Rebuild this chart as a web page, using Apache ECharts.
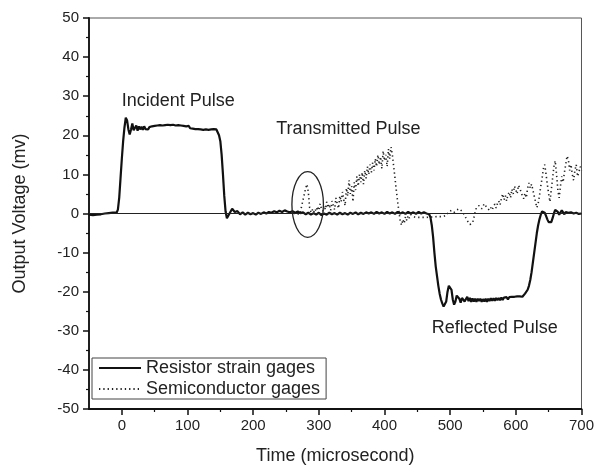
<!DOCTYPE html>
<html>
<head>
<meta charset="utf-8">
<script src="https://cdn.jsdelivr.net/npm/echarts@6/dist/echarts.min.js"></script>
<style>
  html, body { margin: 0; padding: 0; background: #fff; }
  #main { width: 597px; height: 470px; }
</style>
</head>
<body>
<div id="main"></div>
<script>
// tick labels
var xTicks = [0, 100, 200, 300, 400, 500, 600, 700];
var xMinorTicks = [50, 150, 250, 350, 450, 550, 650];

// resistor strain gages (time, mV)
var resistorTime = [
  -50, -47, -44, -41, -38, -35, -32, -29, -26, -23, -20, -17, -14, -11, -8, -6, -4, -2, 0, 2, 4, 6, 7, 8,
  10, 12, 14, 16, 18, 20, 22, 24, 26, 28, 30, 32, 34, 36, 38, 40, 42, 44, 46, 48, 50, 52, 54, 56, 58, 60,
  62, 64, 66, 68, 70, 72, 74, 76, 78, 80, 82, 84, 86, 88, 90, 92, 94, 96, 98, 100, 102, 104, 106, 108, 110,
  112, 114, 116, 118, 120, 122, 124, 126, 128, 130, 132, 134, 136, 138, 140, 142, 144, 146, 148, 150, 152,
  154, 156, 158, 160, 162, 164, 166, 168, 170, 172, 174, 176, 178, 180, 184, 188, 192, 196, 200, 204, 208,
  212, 216, 220, 224, 228, 232, 236, 240, 244, 248, 252, 256, 260, 264, 268, 272, 276, 280, 284, 288, 292,
  296, 300, 304, 308, 312, 316, 320, 324, 328, 332, 336, 340, 344, 348, 352, 356, 360, 364, 368, 372, 376,
  380, 384, 388, 392, 396, 400, 404, 408, 412, 416, 420, 424, 428, 432, 436, 440, 444, 448, 452, 456, 460,
  464, 468, 470, 472, 474, 476, 478, 480, 482, 484, 486, 488, 490, 492, 494, 496, 498, 500, 502, 504, 506,
  508, 510, 512, 514, 516, 518, 520, 522, 524, 526, 528, 530, 532, 534, 536, 538, 540, 542, 544, 546, 548,
  550, 552, 554, 556, 558, 560, 562, 564, 566, 568, 570, 572, 574, 576, 578, 580, 582, 584, 586, 588, 590,
  592, 594, 596, 598, 600, 602, 604, 606, 608, 610, 612, 614, 616, 618, 620, 622, 624, 626, 628, 630, 632,
  634, 636, 638, 640, 642, 644, 646, 648, 650, 652, 654, 656, 658, 660, 662, 664, 666, 668, 670, 672, 674,
  676, 678, 680, 682, 684, 686, 688, 690, 692, 694, 696, 698, 700
];
var resistorVolt = [
  -0.3, 0.1, -0.4, 0, -0.3, 0.2, -0.2, -0.4, 0, -0.3, 0.1, -0.2, 0.2, -0.1, 0.2, 1, 4, 9, 14, 18.5, 22, 24.5, 24.6, 23.8,
  21.5, 20.2, 21.5, 23, 21.3, 20.8, 22.5, 21.2, 22.3, 21.5, 22.2, 21.4, 22.3, 21.6, 22, 21.5, 22.1, 21.7, 22.3, 21.8, 22.4, 22, 22.5, 22.1, 22.6, 22.2,
  22.5, 22.1, 22.6, 22.3, 22.7, 22.2, 22.6, 22.3, 22.7, 22.2, 22.5, 22.1, 22.6, 22.2, 22.5, 22.2, 22.4, 22, 22.3, 21.9, 22.4, 21.8, 22.2, 21.7, 22.1,
  21.6, 22, 21.6, 22, 21.5, 21.9, 21.4, 21.9, 21.5, 21.8, 21.4, 21.8, 21.5, 21.8, 21.6, 21.8, 21.5, 21, 20, 18.5, 15,
  10, 4.5, 0.5, -1.2, -1, 0, 0.3, 1.2, 1.3, 0.4, 0, 0.6, 0.2, -0.2, 0.3, -0.3, 0.2, -0.2, 0.1, -0.3, 0.2,
  -0.1, 0.3, 0, 0.4, 0.2, 0.6, 0.3, 0.7, 0.4, 0.8, 0.5, 0.3, 0.6, 0.2, 0.5, 0.1, 0.3, -0.2, 0.2, -0.3, 0.1,
  -0.3, 0.2, -0.4, 0, -0.3, 0.2, -0.2, 0.1, -0.3, 0.2, -0.2, 0.1, -0.3, 0.2, -0.1, 0.3, -0.2, 0.2, -0.1, 0.3, 0,
  0.3, -0.1, 0.4, 0, 0.3, -0.1, 0.4, 0, 0.3, -0.1, 0.4, 0, 0.3, -0.1, 0.4, 0, 0.3, -0.1, 0.4, 0, 0.3,
  0, -0.2, -1, -3, -6, -10, -13.5, -16, -18.5, -20.5, -22, -23, -23.8, -24, -22.5, -20, -18.5, -18.2, -19.5, -22, -23.3,
  -22.5, -21, -20.5, -21.8, -22.8, -21.6, -21.2, -22.5, -22, -21.3, -22.4, -21.6, -22.6, -21.7, -22.5, -21.8, -22.6, -21.8, -22.4, -21.8, -22.6,
  -21.9, -22.5, -21.8, -22.6, -21.8, -22.4, -21.7, -22.3, -21.7, -22.3, -21.6, -22.2, -21.6, -22.2, -21.5, -22.1, -21.5, -22, -21.4, -22, -21.4,
  -21.9, -21.3, -21.8, -21.3, -21.7, -21.2, -21.6, -21.2, -21.5, -21.3, -21, -20.5, -20, -19.5, -18.5, -17, -15, -12.5, -10, -7.5, -5,
  -3, -1.5, -0.3, 0.5, 0.8, 0.2, -0.6, -1.5, -2.2, -2.5, -2.2, -1.2, 0, 0.9, 1, 0.4, -0.3, 0.2, 0.8, 0.5, -0.2,
  0.4, 0.8, 0.2, -0.3, 0.3, 0.6, 0, -0.3, 0.2, 0.4, -0.1, -0.3, 0
];

// semiconductor gages (time, mV)
var semiTime = [
  262, 266, 270, 272, 274, 276, 278, 280, 282, 283, 284, 285, 286, 288, 290, 292, 294, 296, 298, 300, 302, 304,
  306, 308, 310, 312, 314, 316, 318, 320, 322, 324, 326, 328, 330, 332, 334, 336, 338, 340, 342, 344, 346, 348,
  350, 352, 354, 356, 358, 360, 362, 364, 366, 368, 370, 372, 374, 376, 378, 380, 382, 384, 386, 388, 390, 392,
  394, 396, 398, 400, 402, 404, 406, 408, 410, 412, 414, 416, 418, 420, 422, 424, 426, 428, 430, 432, 434, 436,
  438, 440, 444, 448, 456, 464, 472, 480, 488, 494, 498, 502, 506, 510, 514, 518, 522, 526, 530, 532, 534, 536,
  538, 540, 542, 544, 546, 548, 550, 552, 554, 556, 558, 560, 562, 564, 566, 568, 570, 572, 574, 576, 578, 580,
  582, 584, 586, 588, 590, 592, 594, 596, 598, 600, 602, 604, 606, 608, 610, 612, 614, 616, 618, 620, 622, 624,
  626, 628, 630, 632, 634, 636, 638, 640, 642, 644, 646, 648, 650, 652, 654, 656, 658, 660, 662, 664, 666, 668,
  670, 672, 674, 676, 678, 680, 682, 684, 686, 688, 690, 692, 694, 696, 698, 700
];
var semiVolt = [
  0, 0.2, -0.3, 0.5, 2, 3.5, 5, 6.5, 7.5, 7.6, 5.5, 3.5, 1.5, 0.3, 1, 0.2, 1.2, 0.5, 1.8, 0.8, 2.5, 1.2,
  0.6, 2, 1, 3, 1.5, 2.4, 0.8, 3.2, 2, 1, 4, 2.5, 1.3, 4.5, 3, 5.5, 3.5, 2, 6.5, 4.5, 8.5, 5,
  7, 3, 8, 6, 9.5, 7, 10, 8, 10.5, 7.5, 11, 9, 12, 10, 12.5, 10.5, 13, 11, 14, 12, 15, 12.5,
  14.5, 11.5, 16, 13.5, 15, 12, 16.5, 14, 17, 15, 12, 9, 6, 3, 0.5, -2, -3, -1.5, -2.5, -0.8, -1.8, -0.5,
  -1.2, -0.3, -0.8, -1, -1, -1, -0.9, -0.8, -0.8, -0.5, 0.5, 0.8, 0.3, 0.9, 1.2, 0.6, -0.5, -1.8, -2.8, -3, -2.5, -1.2,
  0.3, 1.5, 1, 2, 2.3, 1.2, 0.8, 2.5, 2.9, 1.5, 2, 0.8, 1.5, 0.9, 1.8, 2.4, 1.4, 2.5, 3.2, 2.2, 3.8, 5,
  3.5, 4.6, 3.2, 4.8, 5.5, 4, 6.2, 5, 7, 6, 5, 7.2, 6.5, 5.5, 4.5, 3.8, 5.2, 4, 6.5, 7.8, 6.5, 7.5,
  6, 4.5, 3, 1.5, 2.5, 4.5, 7, 9, 11.5, 12.5, 10, 7.5, 5, 3, 6, 9, 12, 13.5, 10, 6, 4, 7,
  9.5, 8, 10.5, 12.5, 14.7, 13.8, 11, 12.5, 10, 8.5, 11, 12.5, 9.5, 10.5, 12, 11
];

// annotations: [text, time, mV]
var notes = [
  ['Incident Pulse', 86, 28.7],
  ['Transmitted Pulse', 345, 21.6],
  ['Reflected Pulse', 568, -29.2]
];
// ellipse around the transmitted pulse: centre time, centre mV, half width (time), half height (mV)
var ring = [283, 2.3, 24, 8.4];

function pairs(xs, ys) {
  return xs.map(function (x, i) { return [x, ys[i]]; });
}

var font = 'Liberation Sans, Arial, sans-serif';
var chart = echarts.init(document.getElementById('main'));
chart.setOption({
  backgroundColor: '#fff',
  animation: false,
  grid: {
    left: 89, top: 18, right: 13, bottom: 58,
    show: true, borderColor: '#555', borderWidth: 1
  },
  legend: {
    orient: 'vertical',
    left: 92, top: 358,
    borderColor: '#444', borderWidth: 1,
    padding: [1, 6, 1, 6],
    itemGap: 3,
    itemWidth: 42, itemHeight: 14,
    itemStyle: { color: 'rgba(0,0,0,0)', borderWidth: 0 },
    textStyle: { fontFamily: font, fontSize: 18, color: '#222' },
    data: ['Resistor strain gages', 'Semiconductor gages']
  },
  xAxis: [{
    type: 'value', min: -50, max: 700,
    name: 'Time (microsecond)', nameLocation: 'middle', nameGap: 38,
    nameTextStyle: { fontFamily: font, fontSize: 18, color: '#222' },
    axisLine: { onZero: false, lineStyle: { color: '#111', width: 1.8 } },
    axisTick: { customValues: xTicks, length: 6, lineStyle: { color: '#111', width: 1.5 } },
    axisLabel: { customValues: xTicks, fontFamily: font, fontSize: 15, color: '#222', margin: 9 },
    splitLine: { show: false }
  }, {
    type: 'value', min: -50, max: 700, position: 'bottom',
    axisLine: { show: false, onZero: false },
    axisTick: { customValues: xMinorTicks, length: 3, lineStyle: { color: '#111', width: 1.2 } },
    axisLabel: { show: false },
    splitLine: { show: false }
  }],
  yAxis: {
    type: 'value', min: -50, max: 50, interval: 10,
    name: 'Output Voltage (mv)', nameLocation: 'middle', nameGap: 60,
    nameTextStyle: { fontFamily: font, fontSize: 18, color: '#222' },
    axisLine: { onZero: false, lineStyle: { color: '#111', width: 1.8 } },
    axisTick: { length: 6, lineStyle: { color: '#111', width: 1.5 } },
    minorTick: { show: true, splitNumber: 2, length: 3, lineStyle: { color: '#111', width: 1.2 } },
    axisLabel: { fontFamily: font, fontSize: 15, color: '#222', margin: 10 },
    splitLine: { show: false }
  },
  series: [{
    name: 'Semiconductor gages',
    type: 'line',
    symbol: 'none',
    data: pairs(semiTime, semiVolt),
    lineStyle: { color: '#222', width: 1.6, type: [1.3, 3] },
    itemStyle: { color: '#222' },
    z: 2,
    markLine: {
      silent: true, symbol: 'none', label: { show: false },
      lineStyle: { color: '#222', width: 1, type: 'solid' },
      data: [{ yAxis: 0 }]
    }
  }, {
    name: 'Resistor strain gages',
    type: 'line',
    symbol: 'none',
    data: pairs(resistorTime, resistorVolt),
    lineStyle: { color: '#111', width: 2.2 },
    itemStyle: { color: '#111' },
    z: 3
  }]
});

// text and ellipse placed through the axes
var graphics = notes.map(function (n) {
  var p = chart.convertToPixel({ gridIndex: 0 }, [n[1], n[2]]);
  return {
    type: 'text', x: p[0], y: p[1],
    style: { text: n[0], fontFamily: font, fontSize: 18, fill: '#222', align: 'center', verticalAlign: 'middle' }
  };
});
var c = chart.convertToPixel({ gridIndex: 0 }, [ring[0], ring[1]]);
var e = chart.convertToPixel({ gridIndex: 0 }, [ring[0] + ring[2], ring[1] + ring[3]]);
graphics.push({
  type: 'ellipse',
  shape: { cx: c[0], cy: c[1], rx: Math.abs(e[0] - c[0]), ry: Math.abs(e[1] - c[1]) },
  style: { fill: 'none', stroke: '#222', lineWidth: 1.3 },
  z: 10
});
chart.setOption({ graphic: graphics });
</script>
</body>
</html>
